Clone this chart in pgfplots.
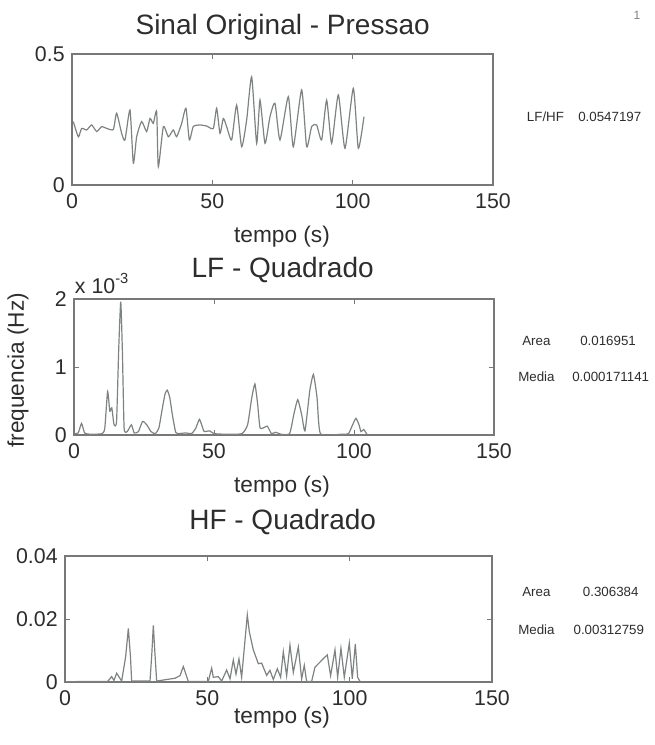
\documentclass[border=0pt]{standalone}
\usepackage{pgfplots}
\pgfplotsset{compat=1.18}
\usepackage{fontspec}
\setmainfont{Liberation Sans}
\definecolor{linegray}{RGB}{125,130,130}
\definecolor{boxgray}{RGB}{120,120,120}
\definecolor{txt}{RGB}{45,45,45}
\pgfplotsset{
  mat/.style={
    scale only axis, anchor=south west,
    xmin=0, xmax=150,
    xtick={0,50,100,150},
    xticklabels={0,50,100,150},
    axis line style={boxgray, line width=0.8pt},
    tick style={boxgray, line width=0.6pt},
    major tick length=4pt,
    tick align=inside,
    xtick pos=both, ytick pos=both,
    ticklabel style={font=\fontsize{16}{18}\selectfont, text=txt},
    xticklabel style={yshift=-3pt},
    yticklabel style={xshift=-2pt},
    /pgf/number format/assume math mode=true,
    scaled ticks=false,
  },
  sig/.style={linegray, line width=0.9pt, mark=none},
}
\begin{document}
\begin{tikzpicture}
\path (0pt,0pt) rectangle (490.5pt,558.75pt);
% ---------- top axis
\begin{axis}[mat, at={(54pt,420pt)}, width=315.75pt, height=98.25pt,
  ymin=0, ymax=0.5, ytick={0,0.5}, yticklabels={0,0.5}]
\addplot[sig, smooth, tension=0.35] table {
0.47 0.242
2.26 0.184
3.44 0.216
5.22 0.210
7.01 0.229
8.79 0.204
10.57 0.223
12.35 0.216
14.73 0.212
15.91 0.274
17.69 0.197
18.88 0.172
20.66 0.286
21.85 0.083
23.04 0.184
24.82 0.242
26.60 0.204
27.79 0.254
28.97 0.235
30.16 0.280
30.76 0.070
32.54 0.223
34.32 0.184
36.10 0.210
37.29 0.184
39.07 0.235
40.61 0.293
41.80 0.172
43.22 0.223
45.60 0.229
47.97 0.225
50.35 0.216
51.54 0.293
52.73 0.197
53.91 0.254
55.10 0.223
56.88 0.172
58.66 0.305
60.44 0.146
62.23 0.248
64.01 0.413
65.79 0.159
66.98 0.324
68.76 0.159
70.54 0.261
72.32 0.312
74.10 0.172
77.07 0.337
78.85 0.146
81.82 0.363
83.60 0.146
85.39 0.223
87.17 0.229
88.95 0.172
90.73 0.324
92.51 0.159
94.89 0.344
97.26 0.140
100.23 0.369
102.01 0.140
104.03 0.261
};
\end{axis}
% ---------- middle axis
\begin{axis}[mat, at={(55.5pt,232.5pt)}, width=315pt, height=102pt,
  ymin=0, ymax=2, ytick={0,1,2}, yticklabels={0,1,2}]
\addplot[sig, smooth, tension=0.3] table {
0 0.02
1.5 0.03
2.7 0.17
3.8 0.03
6 0.01
10 0.02
11.0 0.10
12.0 0.64
12.8 0.35
13.5 0.40
14.3 0.15
15.2 0.20
16.0 1.30
16.7 1.96
17.3 1.20
17.9 0.10
19 0.05
20.5 0.15
21.5 0.03
23 0.05
24.5 0.20
26 0.15
27.5 0.05
29 0.02
30.3 0.10
31.5 0.38
32.5 0.60
33.3 0.66
34.2 0.55
35.2 0.28
36.3 0.04
37 0.02
40 0.03
42 0.02
43.5 0.10
44.8 0.23
46 0.10
46.5 0.05
48.5 0.06
50 0.02
55 0.01
60 0.02
62 0.15
63.5 0.55
64.6 0.75
65.6 0.45
66.5 0.10
69.0 0.13
70.5 0.02
72 0.04
74 0.01
77 0.02
78.5 0.30
79.9 0.52
81.3 0.30
82.5 0.06
84.2 0.65
85.5 0.89
86.8 0.55
88.0 0.02
95 0.01
98 0.02
99.5 0.15
100.7 0.245
101.8 0.15
102.5 0.05
103.5 0.08
104.6 0.01
};
\end{axis}
% ---------- bottom axis
\begin{axis}[mat, at={(48.75pt,47.25pt)}, width=320.25pt, height=94.5pt,
  ymin=0, ymax=0.04, ytick={0,0.02,0.04}, yticklabels={0,0.02,0.04}]
\addplot[sig] table {
0 0.0001
15 0.0002
16.39 0.0017
17.2 0.0005
18.15 0.0028
19.90 0.0003
21.3 0.0080
22.25 0.0170
23.0 0.0080
23.42 0.0003
29.86 0.0003
30.5 0.0090
31.03 0.0180
31.6 0.0090
32.20 0.0003
38.64 0.0012
40.39 0.0020
41.56 0.0049
43.32 0.0002
50.34 0.0002
51.52 0.0044
52.10 0.0015
53.86 0.0017
55.03 0.0003
56.79 0.0038
57.96 0.0010
59.13 0.0070
60.06 0.0025
61.12 0.0073
62.05 0.0015
64.04 0.0213
64.74 0.0160
66.15 0.0102
67.91 0.0058
69.08 0.0060
70.83 0.0021
72.00 0.0037
73.18 0.0008
74.58 0.0042
75.75 0.0015
76.69 0.0096
77.86 0.0020
79.03 0.0117
80.20 0.0030
81.96 0.0111
83.13 0.0010
84.06 0.0053
84.88 0.0002
86.64 0.0002
87.81 0.0047
89.57 0.0063
90.74 0.0074
92.14 0.0086
93.31 0.0020
94.84 0.0102
95.78 0.0015
96.94 0.0107
98.11 0.0015
99.87 0.0123
100.92 0.0010
101.98 0.0121
102.80 0.0015
103.62 0.0002
};
\end{axis}
% ---------- texts
\begin{scope}[every node/.style={text=txt, inner sep=0pt}]
\node at (212pt,538.5pt) {\fontsize{21}{24}\selectfont Sinal Original - Pressao};
\node at (212pt,356pt) {\fontsize{21}{24}\selectfont LF - Quadrado};
\node at (212pt,167pt) {\fontsize{21}{24}\selectfont HF - Quadrado};
\node at (211.5pt,381pt) {\fontsize{17}{20}\selectfont tempo (s)};
\node at (211.5pt,193.5pt) {\fontsize{17}{20}\selectfont tempo (s)};
\node at (211.5pt,20.25pt) {\fontsize{17}{20}\selectfont tempo (s)};
\node[rotate=90] at (13.5pt,281pt) {\fontsize{17}{20}\selectfont frequencia (Hz)};
\node[anchor=west] at (56pt,346pt) {\fontsize{16}{18}\selectfont x 10\raisebox{0.9ex}{\fontsize{11}{12}\selectfont -3}};
\node[anchor=west] at (395pt,471pt) {\fontsize{10}{12}\selectfont LF/HF};
\node[anchor=west] at (433.5pt,471pt) {\fontsize{10}{12}\selectfont 0.0547197};
\node[anchor=west] at (391.5pt,303pt) {\fontsize{10}{12}\selectfont Area};
\node[anchor=west] at (435pt,303pt) {\fontsize{10}{12}\selectfont 0.016951};
\node[anchor=west] at (388.5pt,276pt) {\fontsize{10}{12}\selectfont Media};
\node[anchor=west] at (429pt,276pt) {\fontsize{10}{12}\selectfont 0.000171141};
\node[anchor=west] at (391.5pt,114.75pt) {\fontsize{10}{12}\selectfont Area};
\node[anchor=west] at (437pt,114.75pt) {\fontsize{10}{12}\selectfont 0.306384};
\node[anchor=west] at (388.5pt,86.25pt) {\fontsize{10}{12}\selectfont Media};
\node[anchor=west] at (430pt,86.25pt) {\fontsize{10}{12}\selectfont 0.00312759};
\node[text=gray] at (477.75pt,547.5pt) {\fontsize{9}{10}\selectfont 1};
\end{scope}
\end{tikzpicture}
\end{document}
